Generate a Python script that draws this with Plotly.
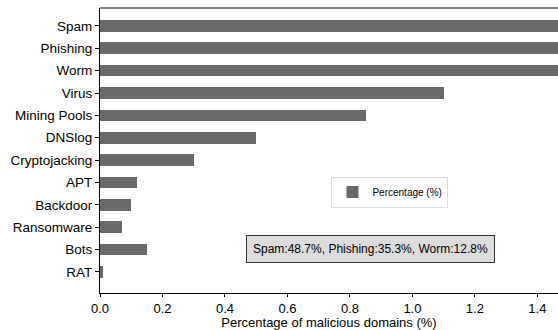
import plotly.graph_objects as go

categories = ["RAT", "Bots", "Ransomware", "Backdoor", "APT", "Cryptojacking",
              "DNSlog", "Mining Pools", "Virus", "Worm", "Phishing", "Spam"]
values = [0.01, 0.15, 0.07, 0.10, 0.12, 0.30, 0.50, 0.85, 1.10, 12.8, 35.3, 48.7]
x_ticks = [0.0, 0.2, 0.4, 0.6, 0.8, 1.0, 1.2, 1.4]
note = "Spam:48.7%, Phishing:35.3%, Worm:12.8%"

font = "Liberation Sans, Arial, sans-serif"

fig = go.Figure()
fig.add_trace(go.Bar(
    x=values, y=list(range(len(categories))), orientation="h",
    marker=dict(color="#696969", line=dict(width=0)),
    width=0.52, name="Percentage (%)", showlegend=True,
))

fig.update_layout(
    width=558, height=330,
    margin=dict(l=100, r=0, t=8, b=37, autoexpand=False),
    plot_bgcolor="white", paper_bgcolor="white",
    font=dict(family=font, size=13.5, color="black"),
    bargap=0,
    showlegend=True,
    legend=dict(
        x=0.633, y=0.354, xanchor="center", yanchor="middle",
        bgcolor="white", bordercolor="#dddddd", borderwidth=1,
        font=dict(size=10, family=font),
        itemsizing="constant", tracegroupgap=0,
    ),
    xaxis=dict(
        range=[0, 1.466], tickvals=x_ticks,
        ticktext=[f"{v:.1f}" for v in x_ticks],
        ticks="outside", ticklen=3, tickcolor="black",
        showline=True, linecolor="black", linewidth=1,
        showgrid=False, zeroline=False, automargin=False,
        title=dict(text="Percentage of malicious domains (%)", font=dict(size=13), standoff=4),
        tickfont=dict(size=13),
    ),
    yaxis=dict(
        range=[-0.94, 11.8],
        tickvals=list(range(len(categories))), ticktext=categories,
        ticks="outside", ticklen=4, tickcolor="black",
        showline=True, linecolor="black", linewidth=1,
        showgrid=False, zeroline=False, automargin=False,
        tickfont=dict(size=13.5),
    ),
    shapes=[dict(type="line", xref="paper", yref="paper", x0=0, x1=1, y0=1, y1=1,
                 line=dict(color="#555555", width=1.5))],
    annotations=[dict(
        text=note, xref="x", yref="paper", x=0.867, y=0.153,
        xanchor="center", yanchor="middle", showarrow=False,
        font=dict(size=12, family=font, color="black"),
        bgcolor="#dcdcdc", bordercolor="#333333", borderwidth=1, borderpad=6,
    )],
)

fig.write_html("out.html", config={"displayModeBar": False},
               post_script="document.body.style.margin='0';")
